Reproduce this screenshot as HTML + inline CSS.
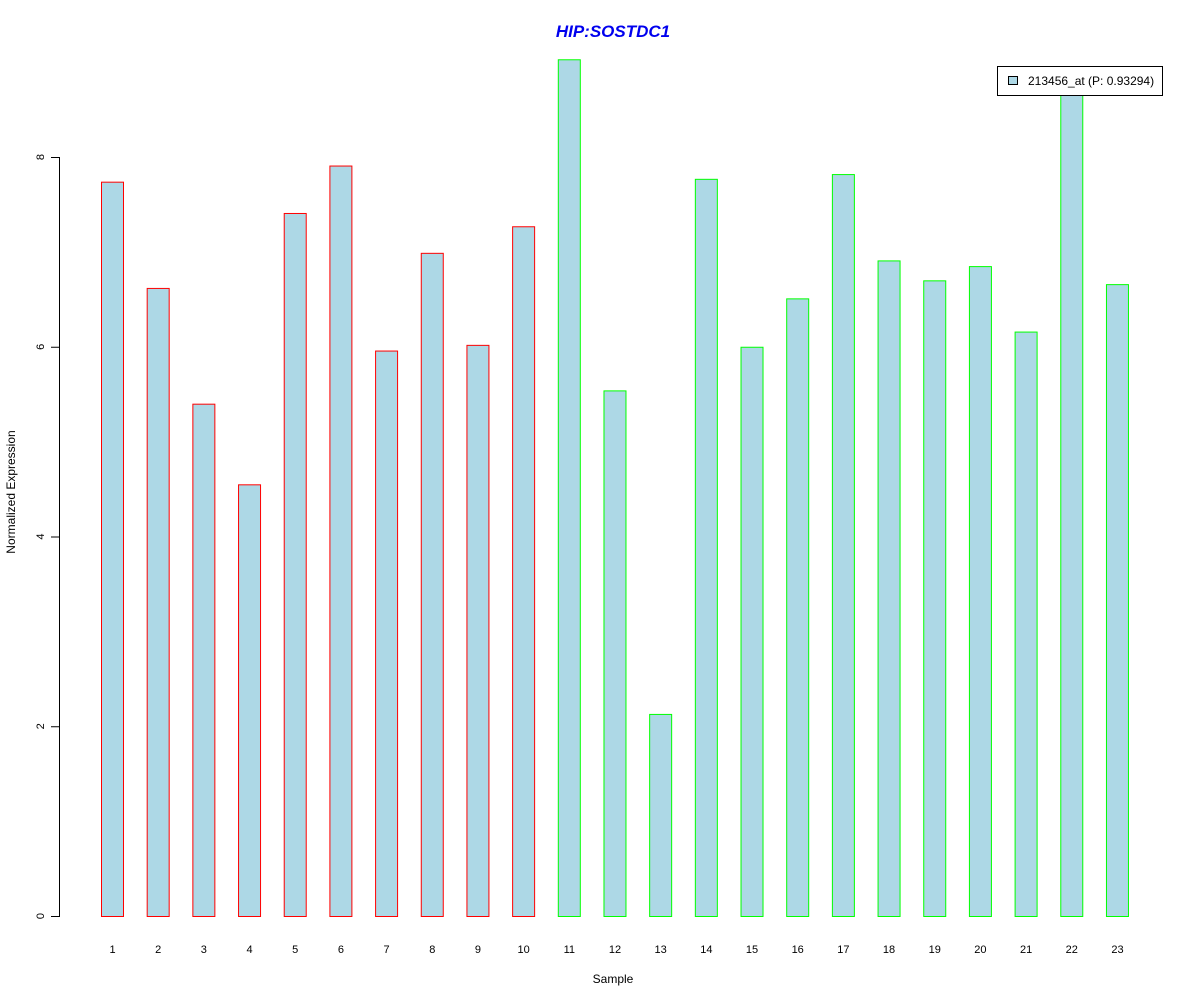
<!DOCTYPE html>
<html><head><meta charset="utf-8"><style>body{margin:0;background:#fff}svg{display:block;font-family:"Liberation Sans",Arial,sans-serif}</style></head>
<body>
<svg id="chart" width="1200" height="1000">
<text x="613" y="37" text-anchor="middle" font-size="17" font-weight="bold" font-style="italic" fill="#0000ee">HIP:SOSTDC1</text>
<text x="613" y="983" text-anchor="middle" font-size="12">Sample</text>
<text transform="translate(15,492) rotate(-90)" text-anchor="middle" font-size="12">Normalized Expression</text>
<g id="yaxis"></g>
<g id="bars"></g>
<g id="xlabels"></g>
<g>
<rect x="997.5" y="66.5" width="165" height="29" fill="#fff" stroke="#000"/>
<rect x="1008.5" y="76.5" width="9" height="8" fill="#add8e6" stroke="#000"/>
<text x="1028" y="85" font-size="12">213456_at (P: 0.93294)</text>
</g>
</svg>
<script>
const categories=["1","2","3","4","5","6","7","8","9","10","11","12","13","14","15","16","17","18","19","20","21","22","23"];
const values=[7.74,6.62,5.40,4.55,7.41,7.91,5.96,6.99,6.02,7.27,9.03,5.54,2.13,7.77,6.00,6.51,7.82,6.91,6.70,6.85,6.16,8.72,6.66];
const groups=["a","a","a","a","a","a","a","a","a","a","b","b","b","b","b","b","b","b","b","b","b","b","b"];
const yTicks=[0,2,4,6,8];
const NS="http://www.w3.org/2000/svg";
const y=v=>916-v*94.875;
const x=i=>101+i*45.68;
const bars=document.getElementById('bars'),xl=document.getElementById('xlabels'),ya=document.getElementById('yaxis');
categories.forEach((c,i)=>{
 const r=document.createElementNS(NS,'rect');
 
 
 r.setAttribute('x',x(i)+0.5);r.setAttribute('width',22);
 r.setAttribute('y',y(values[i])+0.5);r.setAttribute('height',916-y(values[i]));
 r.setAttribute('fill','#add8e6');r.setAttribute('stroke',groups[i]==='a'?'#ff0000':'#00ff00');
 bars.appendChild(r);
 const t=document.createElementNS(NS,'text');
 
 
 t.setAttribute('x',x(i)+11.5);t.setAttribute('y',953);t.setAttribute('font-size','11');t.setAttribute('text-anchor','middle');
 t.textContent=c;xl.appendChild(t);
});
const ax=document.createElementNS(NS,'line');


ax.setAttribute('x1',59.5);ax.setAttribute('x2',59.5);ax.setAttribute('y1',y(yTicks[yTicks.length-1]));ax.setAttribute('y2',y(yTicks[0])+0.5);ax.setAttribute('stroke','#000');
ya.appendChild(ax);
yTicks.forEach(v=>{
 const l=document.createElementNS(NS,'line');
 
 
 l.setAttribute('x1',51);l.setAttribute('x2',60);l.setAttribute('y1',y(v)+0.5);l.setAttribute('y2',y(v)+0.5);l.setAttribute('stroke','#000');
 ya.appendChild(l);
 const t=document.createElementNS(NS,'text');
 
 
 t.setAttribute('transform','translate(44,'+y(v)+') rotate(-90)');t.setAttribute('text-anchor','middle');t.setAttribute('font-size','11');
 t.textContent=v;ya.appendChild(t);
});
</script>
</body></html>
